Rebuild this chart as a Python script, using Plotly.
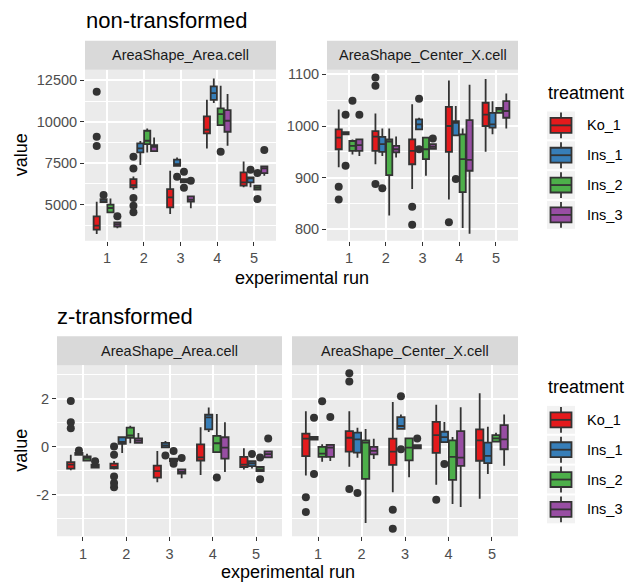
import plotly.graph_objects as go

# ---------------------------------------------------------------- data
runs = [1, 2, 3, 4, 5]
treatments = ["Ko_1", "Ins_1", "Ins_2", "Ins_3"]
colors = ["#E41A1C", "#377EB8", "#4DAF4A", "#984EA3"]
panel_titles = ["AreaShape_Area.cell", "AreaShape_Center_X.cell"]

# AreaShape_Area.cell, raw values (rows: treatments, columns: runs)
area_raw_lo = [[3233, 5900, 4438, 8393, 6044], [5140, 7390, 7349, 11124, 6044],
               [4480, 8153, 6345, 9799, 5904], [3574, 8233, 4779, 8554, 6747]]
area_raw_q1 = [[3494, 6044, 4839, 9297, 6145], [5150, 8153, 7349, 11325, 6345],
               [4540, 8654, 6345, 9799, 5904], [3675, 8233, 5181, 9397, 6908]]
area_raw_med = [[3735, 6185, 5442, 9518, 6345], [5200, 8393, 7450, 11727, 6586],
                [4800, 8855, 6446, 10462, 6024], [3815, 8494, 5300, 10060, 7189]]
area_raw_q3 = [[4297, 6546, 5944, 10321, 6948], [5330, 8695, 7711, 12128, 6647],
               [5000, 9458, 6546, 10803, 6145], [3936, 8594, 5502, 10703, 7309]]
area_raw_hi = [[5180, 6700, 7048, 11325, 7610], [5380, 8835, 7851, 12610, 6647],
               [5380, 9600, 6546, 12168, 6145], [3936, 9056, 5502, 11667, 7309]]
area_raw_out = [[[11807, 9096, 8534], [7892, 7189, 5402, 4940, 4538], [], [], []],
                [[5582], [], [6687], [], [7108]],
                [[], [], [6988, 6024], [8193], [6908, 5341]],
                [[4297], [], [6446], [], [8293]]]
area_raw_ticks = [5000, 7500, 10000, 12500]

# AreaShape_Center_X.cell, raw values
cx_raw_lo = [[920, 926, 878, 858, 950], [984, 942, 993.6, 982, 984],
             [945, 827, 904, 802.6, 1024], [942, 939, 956, 791.7, 995]]
cx_raw_q1 = [[955, 952, 926, 950, 1000], [984, 950, 993.6, 982, 997],
             [952, 905, 936, 872, 1025.6], [952, 949, 956, 913.5, 1016]]
cx_raw_med = [[977.6, 979.5, 952, 1000, 1022], [986, 965, 1003, 1006, 1003],
              [961.5, 970, 955, 936, 1032], [963, 955, 960, 934.6, 1029]]
cx_raw_q3 = [[993.6, 990, 974, 1037, 1045], [988, 979, 1013, 1009.6, 1025.6],
             [971, 974, 977.6, 984, 1035], [974, 961.5, 965, 1011.5, 1048]]
cx_raw_hi = [[1032, 1024, 1042, 1088, 1091], [988, 995, 1016, 1038.5, 1048],
             [974, 995, 977.6, 995, 1037], [974, 979.5, 965, 1080, 1063]]
cx_raw_out = [[[882.7, 857.7], [1094, 1078, 888], [844, 809], [814], []],
              [[1022, 923], [879.5], [1052.5, 955], [897.4], []],
              [[1049], [], [], [], []],
              [[1022], [], [975.6], [], []]]
cx_raw_ticks = [800, 900, 1000, 1100]

# AreaShape_Area.cell, z-transformed
area_z_lo = [[-0.99, -0.95, -1.49, -1.18, -0.95], [-0.36, -0.27, -0.03, 0.61, -0.91],
             [-0.60, 0.14, -0.62, -0.23, -1.02], [-0.88, 0.16, -1.32, -1.06, -0.45]]
area_z_q1 = [[-0.92, -0.91, -1.29, -0.58, -0.85], [-0.34, 0.12, -0.03, 0.72, -0.81],
             [-0.58, 0.37, -0.62, -0.23, -1.02], [-0.88, 0.16, -1.13, -0.50, -0.45]]
area_z_med = [[-0.75, -0.85, -1.02, -0.45, -0.75], [-0.30, 0.20, 0.05, 1.22, -0.70],
              [-0.47, 0.47, -0.55, 0.14, -0.95], [-0.82, 0.25, -1.05, -0.04, -0.31]]
area_z_q3 = [[-0.65, -0.71, -0.79, 0.09, -0.43], [-0.26, 0.39, 0.16, 1.33, -0.61],
             [-0.41, 0.79, -0.50, 0.45, -0.85], [-0.75, 0.34, -0.95, 0.39, -0.20]]
area_z_hi = [[-0.34, -0.60, -0.18, 0.81, -0.07], [-0.24, 0.39, 0.23, 1.63, -0.61],
             [-0.30, 0.87, -0.50, 1.36, -0.85], [-0.75, 0.57, -0.95, 1.02, -0.20]]
area_z_out = [[[1.90, 1.02, 0.77], [0.0, -0.34, -1.25, -1.52, -1.70], [], [], []],
              [[-0.16], [], [-0.37], [], [-0.31]],
              [[], [], [-0.18, -0.72], [-1.29], [-0.45, -1.36]],
              [[-0.61], [], [-0.47], [], [0.34]]]
z_ticks = [-2, 0, 2]

# AreaShape_Center_X.cell, z-transformed
cx_z_lo = [[-1.21, -0.84, -1.90, -1.59, -2.18], [0.29, -0.46, 0.74, 0.19, -1.14],
           [-0.63, -3.19, -1.28, -2.39, 0.21], [-0.60, -0.52, -0.07, -2.52, -0.80]]
cx_z_q1 = [[-0.40, -0.21, -0.76, -0.26, -0.59], [0.29, -0.25, 0.74, 0.19, -0.69],
           [-0.43, -1.35, -0.57, -1.39, 0.21], [-0.43, -0.32, -0.07, -0.80, -0.11]]
cx_z_med = [[0.33, 0.37, -0.21, 0.48, 0.26], [0.33, 0.30, 0.86, 0.40, -0.39],
            [-0.29, 0.17, -0.04, -0.43, 0.34], [-0.04, -0.18, 0.0, -0.46, 0.30]]
cx_z_q3 = [[0.54, 0.65, 0.33, 1.03, 0.72], [0.41, 0.58, 1.23, 0.62, 0.17],
           [-0.01, 0.26, 0.34, 0.26, 0.48], [0.07, -0.01, 0.06, 0.65, 0.90]]
cx_z_hi = [[1.48, 1.48, 1.86, 1.75, 2.23], [0.41, 0.79, 1.34, 1.03, 0.83],
           [0.10, 0.74, 0.37, 0.40, 0.58], [0.07, 0.33, 0.06, 1.64, 1.34]]
cx_z_out = [[[-2.11, -2.73], [3.06, 2.72, -1.77], [-2.63, -3.43], [-2.22], []],
            [[1.20, -1.14], [-1.94], [2.10, -0.11], [-0.73], []],
            [[1.89], [], [], [], []],
            [[1.24], [], [0.34], [], []]]

# ---------------------------------------------------------------- layout helpers
W, H = 628, 585
FONT = "Liberation Sans, Arial, sans-serif"
DARK = "#333333"


def px_x(v):
    return v / W


def px_y(v):
    return 1 - v / H


def midpoints(ticks):
    step = ticks[1] - ticks[0]
    return [t - step / 2 for t in ticks] + [ticks[-1] + step / 2]


def sample_rows(rows):
    # plotly.js reads the sample array as 2-D only when its first row is
    # non-empty, so empty rows get a null placeholder (ignored when drawn)
    return [list(r) if r else [None] for r in rows]


panels = [
    # (axis suffix, stats, x-domain px, y-domain px)
    ("", (area_raw_lo, area_raw_q1, area_raw_med, area_raw_q3, area_raw_hi, area_raw_out),
     (85, 276), (67, 239)),
    ("2", (cx_raw_lo, cx_raw_q1, cx_raw_med, cx_raw_q3, cx_raw_hi, cx_raw_out),
     (327, 518), (67, 239)),
    ("3", (area_z_lo, area_z_q1, area_z_med, area_z_q3, area_z_hi, area_z_out),
     (57, 282), (364, 536)),
    ("4", (cx_z_lo, cx_z_q1, cx_z_med, cx_z_q3, cx_z_hi, cx_z_out),
     (292, 518), (364, 536)),
]

fig = go.Figure()

for suffix, stats, _, _ in panels:
    lo, q1, med, q3, hi, out = stats
    for k, name in enumerate(treatments):
        fig.add_trace(go.Box(
            x=runs, q1=q1[k], median=med[k], q3=q3[k],
            lowerfence=lo[k], upperfence=hi[k], y=sample_rows(out[k]),
            orientation="v",
            name=name, fillcolor=colors[k],
            offsetgroup=name, alignmentgroup="panel" + suffix,
            line=dict(color=DARK, width=1.8),
            marker=dict(color=DARK, size=8, line=dict(width=0)),
            boxpoints="outliers", jitter=0, pointpos=0, whiskerwidth=0,
            xaxis="x" + suffix, yaxis="y" + suffix,
            showlegend=False, hoverinfo="skip",
        ))

tick_font = dict(family=FONT, size=14.5, color="#4D4D4D")
common_x = dict(range=[0.4, 5.6], tickmode="array", tickvals=runs,
                ticktext=[str(r) for r in runs], showgrid=True, gridcolor="white",
                gridwidth=2, zeroline=False, showline=False, ticks="outside",
                ticklen=4, tickwidth=1.4, tickcolor=DARK, tickfont=tick_font)
common_y = dict(showgrid=True, gridcolor="white", gridwidth=2, zeroline=False,
                showline=False, ticks="outside", ticklen=4, tickwidth=1.4,
                tickcolor=DARK, tickfont=tick_font, tickmode="array")


def minor_grid(ticks):
    return dict(tickmode="array", tickvals=midpoints(ticks), showgrid=True,
                gridcolor="white", gridwidth=1, ticks="")


y_specs = {
    "": dict(range=[2824, 13141], tickvals=area_raw_ticks,
             ticktext=[str(t) for t in area_raw_ticks], minor=minor_grid(area_raw_ticks)),
    "2": dict(range=[778, 1109], tickvals=cx_raw_ticks,
              ticktext=[str(t) for t in cx_raw_ticks], minor=minor_grid(cx_raw_ticks)),
    "3": dict(range=[-3.74, 3.40], tickvals=z_ticks,
              ticktext=[str(t) for t in z_ticks], minor=minor_grid(z_ticks)),
    "4": dict(range=[-3.74, 3.40], tickvals=z_ticks, showticklabels=False, ticks="",
              minor=minor_grid(z_ticks)),
}

layout = dict(
    width=W, height=H, margin=dict(l=0, r=0, t=0, b=0),
    paper_bgcolor="white", plot_bgcolor="#EBEBEB",
    boxmode="group", boxgap=0.25, boxgroupgap=0.1,
    font=dict(family=FONT, color="black"),
    showlegend=False,
)

shapes = []
annotations = []

for idx, (suffix, _, xd, yd) in enumerate(panels):
    xa = dict(common_x, domain=[px_x(xd[0]), px_x(xd[1])], anchor="y" + suffix)
    ya = dict(common_y, **y_specs[suffix])
    ya["domain"] = [px_y(yd[1]), px_y(yd[0])]
    ya["anchor"] = "x" + suffix
    layout["xaxis" + suffix] = xa
    layout["yaxis" + suffix] = ya

    # facet strip above each panel
    ph = yd[1] - yd[0]
    strip_h = 29
    shapes.append(dict(type="rect", xref="x" + suffix + " domain",
                       yref="y" + suffix + " domain", x0=0, x1=1,
                       y0=1, y1=1 + strip_h / ph, fillcolor="#D9D9D9",
                       line=dict(width=0), layer="below"))
    annotations.append(dict(text=panel_titles[idx % 2], xref="x" + suffix + " domain",
                            yref="y" + suffix + " domain", x=0.5,
                            y=1 + strip_h / 2 / ph, showarrow=False,
                            xanchor="center", yanchor="middle",
                            font=dict(family=FONT, size=14.5, color="#1A1A1A")))

# section titles
annotations.append(dict(text="non-transformed", xref="paper", yref="paper",
                        x=px_x(84), y=px_y(18), xanchor="left", yanchor="middle",
                        showarrow=False, font=dict(family=FONT, size=22, color="black")))
annotations.append(dict(text="z-transformed", xref="paper", yref="paper",
                        x=px_x(55), y=px_y(315), xanchor="left", yanchor="middle",
                        showarrow=False, font=dict(family=FONT, size=22, color="black")))

# axis titles
for cx, cy in [(301.5, 276), (287.5, 572)]:
    annotations.append(dict(text="experimental run", xref="paper", yref="paper",
                            x=px_x(cx), y=px_y(cy), xanchor="center", yanchor="middle",
                            showarrow=False, font=dict(family=FONT, size=18, color="black")))
for cy in [153, 450]:
    annotations.append(dict(text="value", xref="paper", yref="paper",
                            x=px_x(21), y=px_y(cy), xanchor="center", yanchor="middle",
                            textangle=-90, showarrow=False,
                            font=dict(family=FONT, size=18, color="black")))

# legends (one per row of panels)
for top in [90, 386]:
    annotations.append(dict(text="treatment", xref="paper", yref="paper",
                            x=px_x(546), y=px_y(top), xanchor="left", yanchor="middle",
                            showarrow=False, font=dict(family=FONT, size=18, color="black")))
    for k, name in enumerate(treatments):
        cy = top + 33 + 30 * k
        shapes.append(dict(type="rect", xref="paper", yref="paper",
                           x0=px_x(547), x1=px_x(575), y0=px_y(cy + 14), y1=px_y(cy - 14),
                           fillcolor="#F2F2F2", line=dict(width=0)))
        shapes.append(dict(type="line", xref="paper", yref="paper",
                           x0=px_x(561), x1=px_x(561), y0=px_y(cy + 13), y1=px_y(cy - 13),
                           line=dict(color=DARK, width=1.8)))
        shapes.append(dict(type="rect", xref="paper", yref="paper",
                           x0=px_x(550.5), x1=px_x(571.5), y0=px_y(cy + 7.5), y1=px_y(cy - 7.5),
                           fillcolor=colors[k], line=dict(color=DARK, width=1.8)))
        shapes.append(dict(type="line", xref="paper", yref="paper",
                           x0=px_x(550.5), x1=px_x(571.5), y0=px_y(cy), y1=px_y(cy),
                           line=dict(color=DARK, width=1.8)))
        annotations.append(dict(text=name, xref="paper", yref="paper",
                                x=px_x(585), y=px_y(cy), xanchor="left", yanchor="middle",
                                showarrow=False,
                                font=dict(family=FONT, size=14.5, color="black")))

layout["shapes"] = shapes
layout["annotations"] = annotations
fig.update_layout(**layout)

fig.write_html("out.html")
